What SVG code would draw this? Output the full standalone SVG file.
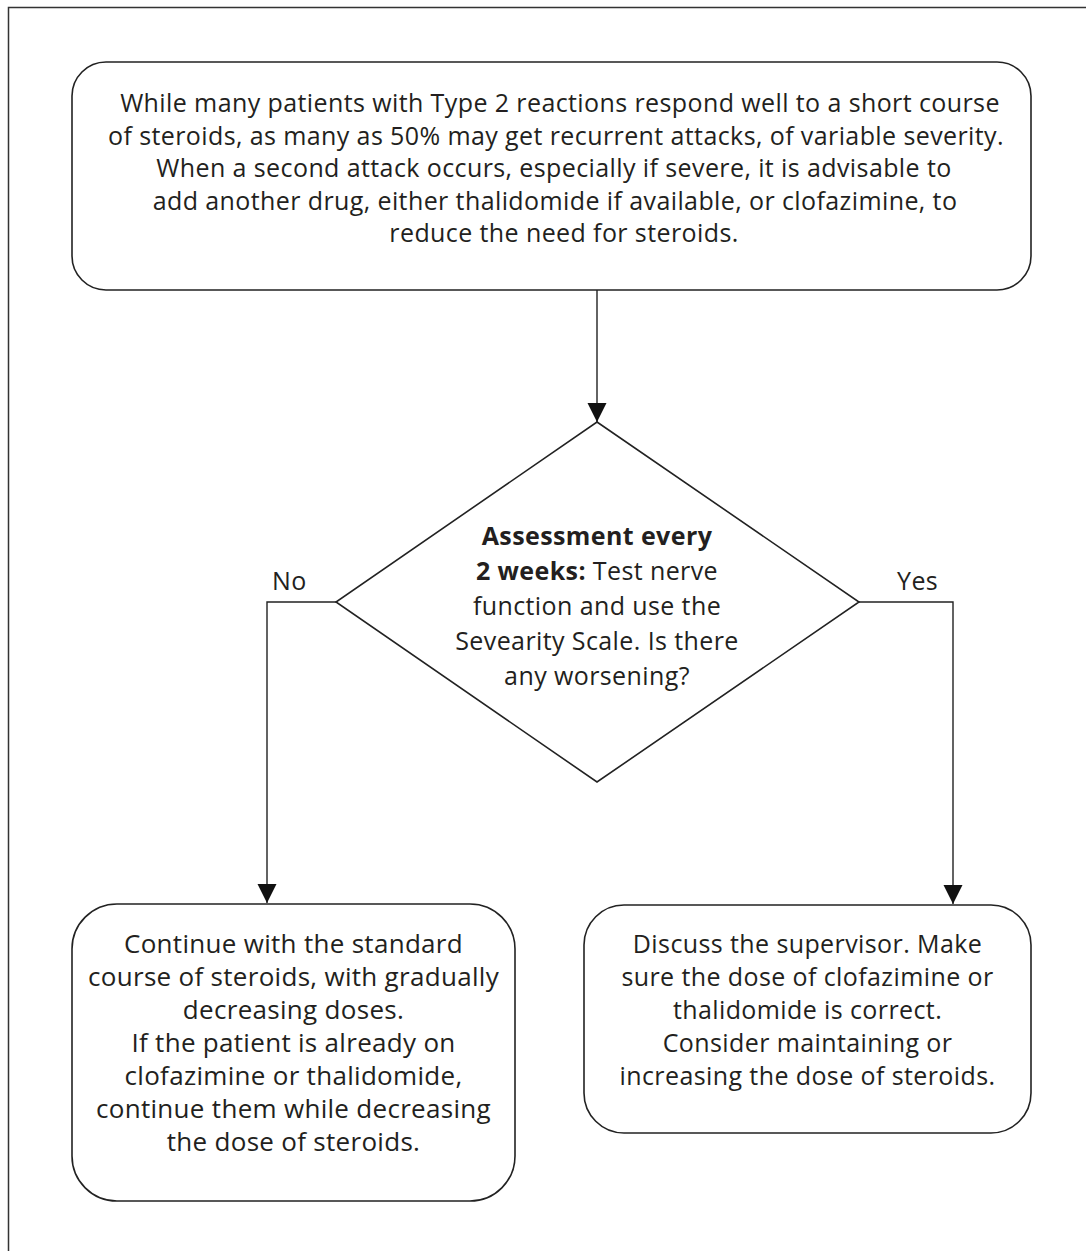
<svg xmlns="http://www.w3.org/2000/svg" width="1086" height="1251" viewBox="0 0 1086 1251">
  <defs>
    <style>
      .box { fill: #ffffff; stroke: #222222; stroke-width: 1.6; }
      .link { fill: none; stroke: #222222; stroke-width: 1.4; }
      .frame { fill: none; stroke: #333333; stroke-width: 1.5; }
      text { font-family: "Open Sans", "Liberation Sans", sans-serif; font-size: 25px; letter-spacing: 0.4px; fill: #231f20; text-anchor: middle; }
      .bold { font-weight: bold; }
      .label { text-anchor: start; }
      .big { font-size: 26px; letter-spacing: 0.3px; }
    </style>
    <marker id="arrow" viewBox="0 0 20 20" refX="19" refY="10" markerWidth="20" markerHeight="20" markerUnits="userSpaceOnUse" orient="auto">
      <path d="M0,0.5 L19,10 L0,19.5 Z" fill="#111111"/>
    </marker>
  </defs>

  <rect width="1086" height="1251" fill="#ffffff"/>
  <!-- page frame, open to the right and bottom -->
  <path class="frame" d="M8.5,1251 V7.5 H1086"/>

  <g id="intro">
    <rect class="box" x="72" y="62" width="959" height="228" rx="34" ry="34"/>
    <text x="560" y="112">While many patients with Type 2 reactions respond well to a short course</text>
    <text x="556" y="144.5">of steroids, as many as 50% may get recurrent attacks, of variable severity.</text>
    <text x="554" y="177">When a second attack occurs, especially if severe, it is advisable to</text>
    <text x="555" y="209.5">add another drug, either thalidomide if available, or clofazimine, to</text>
    <text x="564" y="242">reduce the need for steroids.</text>
  </g>

  <g id="assessment">
    <polygon class="box" points="597,422 859,602 597,782 336,602"/>
    <text class="bold" x="597" y="545">Assessment every</text>
    <text x="597" y="580"><tspan class="bold">2 weeks:</tspan> Test nerve</text>
    <text x="597" y="615">function and use the</text>
    <text x="597" y="650">Sevearity Scale. Is there</text>
    <text x="597" y="685">any worsening?</text>
  </g>

  <g id="continue">
    <rect class="box" x="72" y="904" width="443" height="297" rx="45" ry="45"/>
    <text class="big" x="293.5" y="953">Continue with the standard</text>
    <text class="big" x="293.5" y="986">course of steroids, with gradually</text>
    <text class="big" x="293.5" y="1019">decreasing doses.</text>
    <text class="big" x="293.5" y="1052">If the patient is already on</text>
    <text class="big" x="293.5" y="1085">clofazimine or thalidomide,</text>
    <text class="big" x="293.5" y="1118">continue them while decreasing</text>
    <text class="big" x="293.5" y="1151">the dose of steroids.</text>
  </g>

  <g id="discuss">
    <rect class="box" x="584" y="905" width="447" height="228" rx="40" ry="40"/>
    <text x="807.5" y="953">Discuss the supervisor. Make</text>
    <text x="807.5" y="986">sure the dose of clofazimine or</text>
    <text x="807.5" y="1019">thalidomide is correct.</text>
    <text x="807.5" y="1052">Consider maintaining or</text>
    <text x="807.5" y="1085">increasing the dose of steroids.</text>
  </g>

  <g id="connectors">
    <path class="link" d="M597,290 V422" marker-end="url(#arrow)"/>
    <path class="link" d="M336,602 H267 V903" marker-end="url(#arrow)"/>
    <path class="link" d="M859,602 H953 V904" marker-end="url(#arrow)"/>
    <text class="label" x="272" y="590">No</text>
    <text class="label" x="897" y="590">Yes</text>
  </g>
</svg>
